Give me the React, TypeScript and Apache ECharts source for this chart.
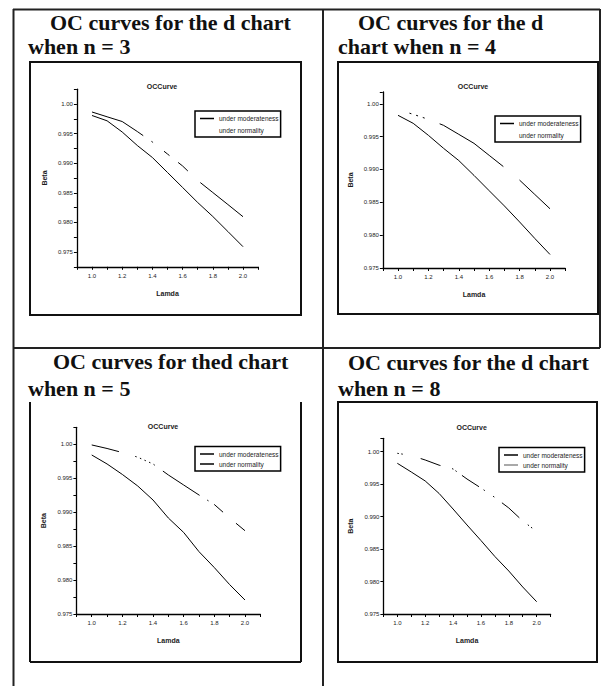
import { useEffect, useRef } from "react";
import * as echarts from "echarts";

// ---- data ----
const lambda = [1.0, 1.1, 1.2, 1.3, 1.4, 1.5, 1.6, 1.7, 1.8, 1.9, 2.0];

const n3Moderate = [0.99806, 0.99716, 0.99527, 0.99299, 0.99096, 0.98843, 0.9859, 0.98336, 0.981, 0.97846, 0.9759];
const n3Normal = [0.99865, 0.99784, 0.99704, 0.99535, 0.99358, 0.99155, 0.98953, 0.98708, 0.98505, 0.98302, 0.98096];

const n4Moderate = [0.99825, 0.99703, 0.9952, 0.99322, 0.99136, 0.9891, 0.98677, 0.98445, 0.98201, 0.9795, 0.97706];
const n4Normal = [0.99912, 0.9984, 0.99764, 0.99672, 0.99535, 0.99398, 0.99215, 0.99032, 0.98838, 0.9862, 0.98402];

const n5Moderate = [0.99842, 0.9971, 0.99555, 0.99386, 0.99179, 0.98914, 0.98701, 0.98418, 0.98184, 0.97933, 0.97706];
const n5Normal = [0.9999, 0.99938, 0.99878, 0.9981, 0.9971, 0.99548, 0.994, 0.99253, 0.99113, 0.98914, 0.98727];

const n8Moderate = [0.99821, 0.99687, 0.99549, 0.99356, 0.99117, 0.98871, 0.98632, 0.98386, 0.98162, 0.97916, 0.97689];
const n8Normal = [0.99975, 0.99941, 0.99872, 0.99792, 0.99734, 0.99579, 0.99441, 0.99295, 0.99133, 0.98933, 0.98771];

const xTickLabels = ["1.0", "1.2", "1.4", "1.6", "1.8", "2.0"];
const yTickLabels = ["0.975", "0.980", "0.985", "0.990", "0.995", "1.00"];

const seriesNames = ["under moderateness", "under normality"];
const chartTitle = "OCCurve";
const xName = "Lamda";
const yName = "Beta";

const cellTitles = [
  ["OC curves for the d chart", "when n = 3"],
  ["OC curves for the d", "chart when n = 4"],
  ["OC curves for thed chart", "when n = 5"],
  ["OC curves for the d chart", "when n = 8"],
];

// ---- layout / style ----
const SANS = "Liberation Sans";
const SERIF = "Liberation Serif";
const INK = "#1c1c1c";

const panels = [
  {
    grid: { left: 76.9, top: 89.2, width: 181.2, height: 177.6 },
    yMin: 0.9725, yMax: 1.0025, yInterval: 0.0025,
    mod: n3Moderate, norm: n3Normal,
    dash: [57, 10, 2, 14, 7, 11, 13, 17, 400],
    legend: { left: 195, top: 111, gap: 4.5 },
    legendNorm: { opacity: 0 },
    title: { x: 162, y: 87 },
    heads: [{ x: 50, y: 22 }, { x: 28, y: 46 }],
  },
  {
    grid: { left: 382.8, top: 92, width: 182.4, height: 176 },
    yMin: 0.975, yMax: 1.0018, yInterval: 0.005,
    mod: n4Moderate, norm: n4Normal,
    dash: [0, 12, 2, 5, 2, 5, 2, 16, 77, 21, 400],
    legend: { left: 495, top: 116, gap: 4.5 },
    legendNorm: { opacity: 0 },
    title: { x: 473, y: 87 },
    heads: [{ x: 358, y: 22 }, { x: 338, y: 46 }],
  },
  {
    grid: { left: 76.4, top: 427.3, width: 183.9, height: 186.7 },
    yMin: 0.975, yMax: 1.0025, yInterval: 0.0025,
    mod: n5Moderate, norm: n5Normal,
    dash: [28, 17, 1.5, 3.5, 1.5, 3.5, 1.5, 3.5, 1.5, 3.5, 1.5, 10, 44, 9, 1.5, 6.5, 12, 17, 400],
    legend: { left: 195, top: 446.5, gap: 3 },
    legendNorm: { opacity: 1 },
    title: { x: 163, y: 427 },
    heads: [{ x: 53, y: 361 }, { x: 28, y: 388 }],
  },
  {
    grid: { left: 383.4, top: 438.3, width: 167.2, height: 175.7 },
    yMin: 0.975, yMax: 1.00206, yInterval: 0.005,
    mod: n8Moderate, norm: n8Normal,
    dash: [1.5, 2.5, 1.5, 18.5, 21, 12, 1.5, 2.5, 1.5, 6.5, 20.5, 5.5, 1.5, 10, 1.5, 9.5, 23, 11, 1.5, 2.5, 1.5, 400],
    legend: { left: 499, top: 447.5, gap: 3 },
    legendNorm: { opacity: 0.45 },
    title: { x: 471.7, y: 427.7 },
    heads: [{ x: 348, y: 362 }, { x: 338, y: 388 }],
  },
];

const fmtX = (v: number) => {
  const s = v.toFixed(1);
  return xTickLabels.includes(s) ? s : "";
};
const fmtY = (v: number) => {
  const s = Math.abs(v - 1) < 1e-9 ? "1.00" : v.toFixed(3);
  return yTickLabels.includes(s) ? s : "";
};

function buildOption() {
  const smallText = { fontFamily: SANS, color: INK };

  const grid = panels.map((p) => ({ ...p.grid, containLabel: false }));

  const xAxis = panels.map((p, i) => ({
    type: "value",
    gridIndex: i,
    min: 0.9,
    max: 2.1,
    interval: 0.1,
    name: xName,
    nameLocation: "middle",
    nameGap: 23,
    nameTextStyle: { ...smallText, fontSize: 7, fontWeight: "bold" },
    axisLine: { onZero: false, lineStyle: { color: "#000", width: 1.3 } },
    axisTick: { length: 3, lineStyle: { color: "#000", width: 1 } },
    axisLabel: { ...smallText, fontSize: 6, margin: 6, formatter: fmtX },
    splitLine: { show: false },
  }));

  const yAxis = panels.map((p, i) => ({
    type: "value",
    gridIndex: i,
    min: p.yMin,
    max: p.yMax,
    interval: p.yInterval,
    name: yName,
    nameLocation: "middle",
    nameGap: 29,
    nameTextStyle: { ...smallText, fontSize: 7, fontWeight: "bold" },
    axisLine: { onZero: false, lineStyle: { color: "#000", width: 1.3 } },
    axisTick: { length: 3, lineStyle: { color: "#000", width: 1 } },
    axisLabel: { ...smallText, fontSize: 6, margin: 4, formatter: fmtY },
    splitLine: { show: false },
  }));

  const series: any[] = [];
  panels.forEach((p, i) => {
    series.push({
      type: "line",
      name: seriesNames[0],
      xAxisIndex: i,
      yAxisIndex: i,
      data: lambda.map((x, k) => [x, p.mod[k]]),
      symbol: "none",
      lineStyle: { color: "#000", width: 1, type: "solid" },
      itemStyle: { color: "#000" },
    });
    series.push({
      type: "line",
      name: seriesNames[1],
      xAxisIndex: i,
      yAxisIndex: i,
      data: lambda.map((x, k) => [x, p.norm[k]]),
      symbol: "none",
      lineStyle: { color: "#000", width: 1, type: p.dash },
      itemStyle: { color: "#000" },
    });
  });

  const legend = panels.map((p) => ({
    left: p.legend.left,
    top: p.legend.top,
    orient: "vertical",
    selectedMode: false,
    icon: "rect",
    itemWidth: 14,
    itemHeight: 1.5,
    itemGap: p.legend.gap,
    padding: [4, 2, 3.5, 5],
    borderColor: "#000",
    borderWidth: 1.5,
    backgroundColor: "#fff",
    textStyle: { ...smallText, fontSize: 6.5 },
    data: [
      { name: seriesNames[0], itemStyle: { color: "#000", opacity: 1 } },
      { name: seriesNames[1], itemStyle: { color: "#000", ...p.legendNorm } },
    ],
  }));

  const title = panels.map((p) => ({
    text: chartTitle,
    left: p.title.x,
    top: p.title.y - 4,
    textAlign: "center",
    padding: 0,
    textStyle: { ...smallText, fontSize: 7, fontWeight: "bold" },
  }));

  const lineStyle = { stroke: "#222", lineWidth: 2 };
  const frameStyle = { fill: "none", stroke: "#111", lineWidth: 2 };
  const seg = (x1: number, y1: number, x2: number, y2: number, style = lineStyle) => ({
    type: "line",
    silent: true,
    shape: { x1, y1, x2, y2 },
    style,
  });

  const graphic: any[] = [
    // table borders
    seg(13, 9.5, 600, 9.5),
    seg(13.5, 9, 13.5, 686),
    seg(323, 9, 323, 686),
    seg(600, 9, 600, 348),
    seg(13, 348, 600, 348),
    // chart frames
    { type: "rect", silent: true, shape: { x: 30, y: 62, width: 271, height: 253 }, style: frameStyle },
    { type: "rect", silent: true, shape: { x: 338, y: 62, width: 260, height: 252 }, style: frameStyle },
    seg(30, 402, 30, 662, frameStyle),
    seg(30, 662, 301, 662, frameStyle),
    seg(301, 402, 301, 662, frameStyle),
    { type: "rect", silent: true, shape: { x: 338, y: 402, width: 259, height: 260 }, style: frameStyle },
  ];

  panels.forEach((p, i) => {
    p.heads.forEach((h, j) => {
      graphic.push({
        type: "text",
        silent: true,
        x: h.x,
        y: h.y,
        style: {
          text: cellTitles[i][j],
          fontFamily: SERIF,
          fontSize: 22,
          fontWeight: "bold",
          fill: "#111",
          align: "left",
          verticalAlign: "middle",
        },
      });
    });
  });

  return {
    animation: false,
    backgroundColor: "#fff",
    title,
    legend,
    grid,
    xAxis,
    yAxis,
    series,
    graphic,
  };
}

export default function App() {
  const ref = useRef<HTMLDivElement | null>(null);
  useEffect(() => {
    if (!ref.current) return;
    const chart = echarts.init(ref.current, undefined, { renderer: "svg" });
    chart.setOption(buildOption() as any);
    return () => chart.dispose();
  }, []);
  return (
    <div
      ref={ref}
      style={{ position: "absolute", left: 0, top: 0, width: 602, height: 686 }}
    />
  );
}
